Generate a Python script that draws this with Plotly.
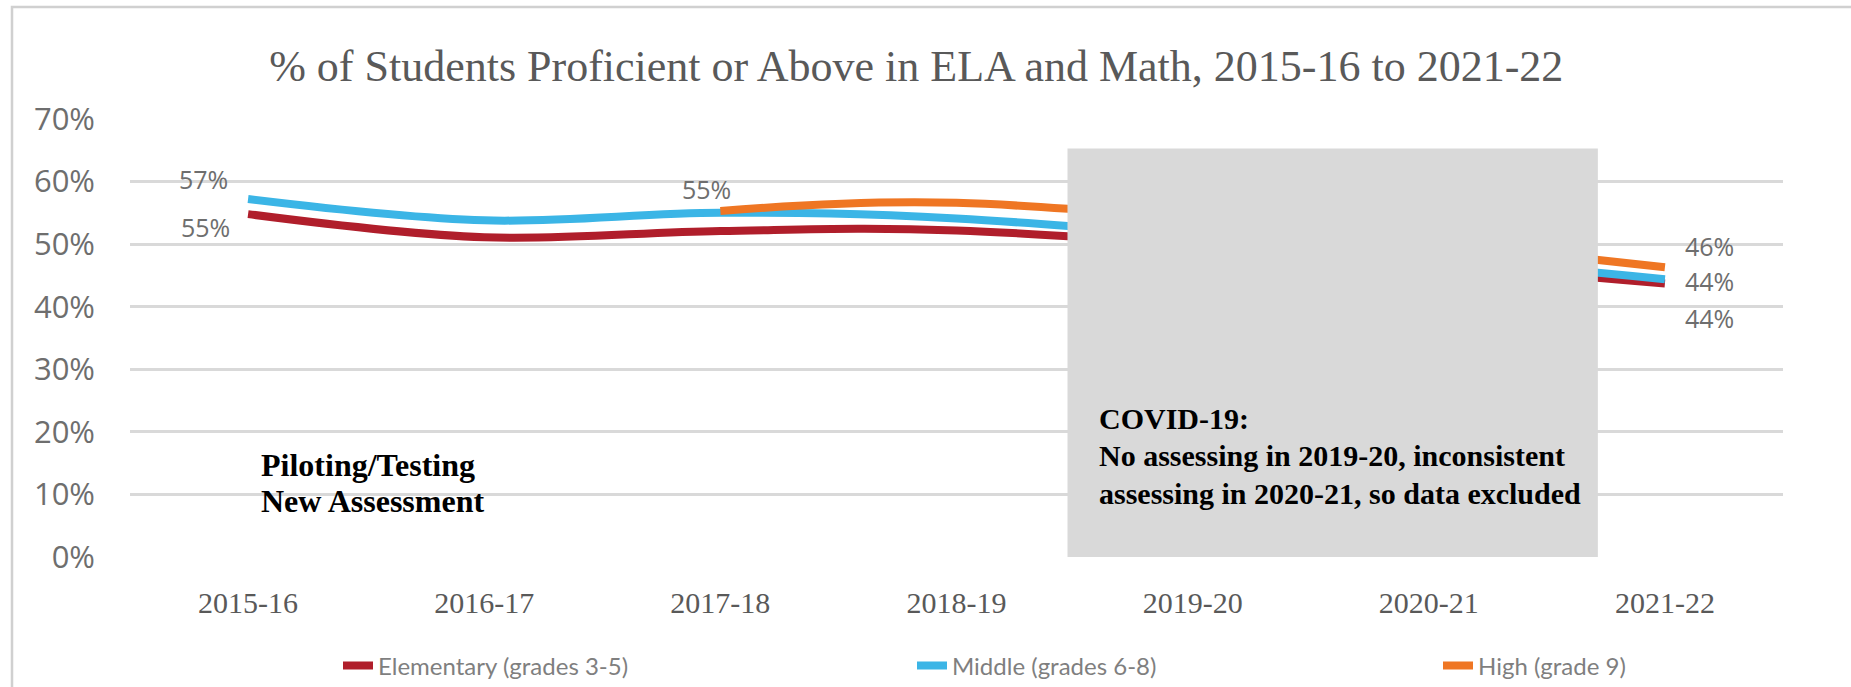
import plotly.graph_objects as go

# ---- data ----
years = ["2015-16", "2016-17", "2017-18", "2018-19", "2019-20", "2020-21", "2021-22"]
elementary = [54.8, 51.1, 52.1, 52.2, None, None, 43.7]
middle = [57.2, 53.8, 55.0, 54.1, None, None, 44.4]
high = [None, None, 55.3, 56.6, None, None, 46.3]
series_names = ["Elementary (grades 3-5)", "Middle (grades 6-8)", "High (grade 9)"]
series_colors = ["#B01E2B", "#3BB5E6", "#EF7623"]
y_ticks = [0, 10, 20, 30, 40, 50, 60, 70]
title_text = "% of Students Proficient or Above in ELA and Math, 2015-16 to 2021-22"
pilot_lines = ["Piloting/Testing", "New Assessment"]
covid_lines = ["COVID-19:", "No assessing in 2019-20, inconsistent",
               "assessing in 2020-21, so data excluded"]

W, H = 1851, 687
L, R, T, B = 130, 68, 119, 130
pw, ph = W - L - R, H - T - B

def px_x(v):
    return (v - L) / pw

def px_y(v):
    return (H - B - v) / ph

fig = go.Figure()
all_series = [elementary, middle, high]
legend_ids = ["legend", "legend2", "legend3"]
for vals, name, col, lid in zip(all_series, series_names, series_colors, legend_ids):
    fig.add_trace(go.Scatter(
        x=years, y=vals, name=name, mode="lines",
        line=dict(color=col, width=8, shape="spline", smoothing=1),
        connectgaps=True, hoverinfo="skip", legend=lid))

# grey COVID box (drawn above lines)
fig.add_shape(type="rect", xref="x", yref="y", x0=3.47, x1=5.716, y0=0, y1=65.3,
              fillcolor="#D9D9D9", line=dict(width=0), layer="above")

# chart border (top + left visible, rest runs off the page)
fig.add_shape(type="rect", xref="paper", yref="paper",
              x0=px_x(12), x1=px_x(W + 20), y0=px_y(H + 20), y1=px_y(7),
              line=dict(color="#D0D0D0", width=2.5), fillcolor="rgba(0,0,0,0)",
              layer="below")

lab_font = dict(family="Open Sans", size=25, color="#6E6E6E")

def first_last(vals):
    idx = [i for i, v in enumerate(vals) if v is not None]
    return idx[0], idx[-1]

offsets = [((-43, -13), (45, -34)), ((-45, 20), (45, -2)), ((-14, 22), (45, 21))]
for vals, (off_a, off_b) in zip(all_series, offsets):
    i0, i1 = first_last(vals)
    for i, (dx, dy) in ((i0, off_a), (i1, off_b)):
        fig.add_annotation(x=years[i], y=vals[i], xref="x", yref="y",
                           text=f"{vals[i]:.0f}%", showarrow=False,
                           xshift=dx, yshift=dy, font=lab_font)

for line, ypx in zip(pilot_lines, [465, 501]):
    fig.add_annotation(xref="paper", yref="paper", x=px_x(259), y=px_y(ypx),
                       xanchor="left", yanchor="middle", align="left", showarrow=False,
                       text=f"<b>{line}</b>",
                       font=dict(family="Liberation Serif", size=32, color="#000000"))
for line, ypx in zip(covid_lines, [418, 455, 493]):
    fig.add_annotation(xref="paper", yref="paper", x=px_x(1097), y=px_y(ypx),
                       xanchor="left", yanchor="middle", align="left", showarrow=False,
                       text=f"<b>{line}</b>",
                       font=dict(family="Liberation Serif", size=30, color="#000000"))

leg_common = dict(orientation="h", xanchor="left", y=px_y(666), yanchor="middle",
                  font=dict(family="Lato", size=24, color="#7F7F7F"),
                  bgcolor="rgba(0,0,0,0)")

fig.update_layout(
    width=W, height=H,
    margin=dict(l=L, r=R, t=T, b=B, autoexpand=False),
    paper_bgcolor="white", plot_bgcolor="white",
    title=dict(text=title_text, x=0.495, xref="container", xanchor="center",
               y=1 - 66 / H, yref="container", yanchor="middle",
               font=dict(family="Liberation Serif", size=44, color="#595959")),
    xaxis=dict(type="category", range=[-0.5, 6.5], showgrid=False, showline=False,
               zeroline=False, ticks="", ticklabelstandoff=25,
               tickfont=dict(family="Liberation Serif", size=30, color="#595959")),
    yaxis=dict(range=[0, 70], tickvals=y_ticks, ticktext=[f"{v}%" for v in y_ticks],
               showgrid=True, gridcolor="#D9D9D9", gridwidth=2.5, zeroline=False,
               showline=False, ticks="", ticklabelstandoff=34,
               tickfont=dict(family="Open Sans", size=31, color="#6E6E6E")),
    legend=dict(x=px_x(338), **leg_common),
    legend2=dict(x=px_x(912), **leg_common),
    legend3=dict(x=px_x(1438), **leg_common),
    showlegend=True,
)

fig.write_html("out.html", config={"displayModeBar": False})
